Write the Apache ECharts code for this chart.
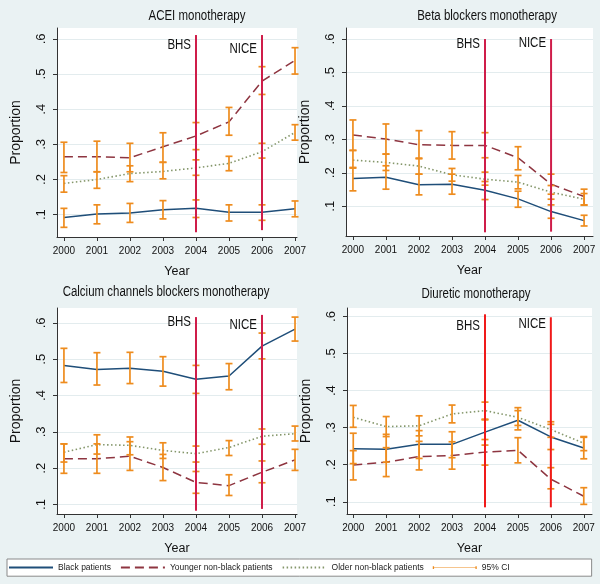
<!DOCTYPE html>
<html>
<head>
    <meta charset="utf-8">
    <title>Monotherapy proportions</title>
    <script src="https://cdn.jsdelivr.net/npm/echarts@6/dist/echarts.min.js"></script>
    <style>
        html, body { margin: 0; padding: 0; background: #eaf2f3; }
    </style>
</head>
<body>
<div id="main" style="width: 600px;height:584px;"></div>
<script type="text/javascript">
    var years = [2000, 2001, 2002, 2003, 2004, 2005, 2006, 2007];
    var yTicks = [0.1, 0.2, 0.3, 0.4, 0.5, 0.6];
    var groupNames = ['Black patients', 'Younger non-black patients', 'Older non-black patients', '95% CI'];
    var guideNames = ['BHS', 'NICE'];
    var panelTitles = ['ACEI monotherapy', 'Beta blockers monotherapy',
        'Calcium channels blockers monotherapy', 'Diuretic monotherapy'];

    // each row: [proportion, lower 95% CI, upper 95% CI], one row per year
    var aceiBlack = [[0.092,0.064,0.118],[0.102,0.074,0.128],[0.105,0.078,0.132],[0.114,0.088,0.140],
        [0.118,0.092,0.142],[0.107,0.082,0.128],[0.107,0.084,0.128],[0.117,0.094,0.139]];
    var aceiYounger = [[0.265,0.220,0.306],[0.265,0.222,0.309],[0.262,0.222,0.303],[0.293,0.249,0.333],
        [0.324,0.285,0.362],[0.364,0.326,0.405],[0.480,0.442,0.521],[0.539,0.500,0.575]];
    var aceiOlder = [[0.189,0.164,0.211],[0.200,0.175,0.222],[0.217,0.194,0.239],[0.223,0.202,0.249],
        [0.233,0.212,0.256],[0.246,0.225,0.266],[0.279,0.261,0.303],[0.334,0.312,0.356]];

    var betaBlack = [[0.183,0.146,0.216],[0.187,0.151,0.221],[0.164,0.134,0.196],[0.166,0.136,0.196],
        [0.148,0.120,0.174],[0.122,0.097,0.145],[0.084,0.064,0.104],[0.057,0.041,0.073]];
    var betaYounger = [[0.313,0.267,0.358],[0.301,0.256,0.346],[0.284,0.242,0.326],[0.282,0.241,0.323],
        [0.282,0.245,0.320],[0.245,0.209,0.278],[0.166,0.136,0.196],[0.129,0.104,0.151]];
    var betaOlder = [[0.238,0.214,0.267],[0.231,0.207,0.256],[0.220,0.196,0.244],[0.194,0.175,0.213],
        [0.181,0.163,0.202],[0.172,0.152,0.192],[0.142,0.121,0.162],[0.121,0.103,0.138]];

    var ccbBlack = [[0.483,0.436,0.530],[0.472,0.429,0.518],[0.475,0.433,0.519],[0.467,0.426,0.507],
        [0.445,0.406,0.483],[0.454,0.416,0.488],[0.536,0.501,0.572],[0.583,0.550,0.616]];
    var ccbYounger = [[0.226,0.186,0.267],[0.226,0.186,0.267],[0.233,0.194,0.273],[0.202,0.166,0.238],
        [0.161,0.131,0.191],[0.152,0.125,0.182],[0.189,0.160,0.220],[0.223,0.194,0.252]];
    var ccbOlder = [[0.244,0.217,0.267],[0.265,0.239,0.292],[0.263,0.237,0.286],[0.249,0.227,0.270],
        [0.240,0.217,0.261],[0.257,0.235,0.276],[0.288,0.266,0.308],[0.295,0.275,0.316]];

    var diurBlack = [[0.243,0.203,0.285],[0.242,0.207,0.282],[0.255,0.217,0.292],[0.255,0.219,0.289],
        [0.288,0.253,0.321],[0.320,0.294,0.346],[0.275,0.241,0.309],[0.245,0.216,0.274]];
    var diurYounger = [[0.199,0.159,0.238],[0.207,0.168,0.246],[0.222,0.186,0.263],[0.225,0.188,0.262],
        [0.234,0.199,0.268],[0.239,0.205,0.273],[0.161,0.135,0.192],[0.115,0.093,0.138]];
    var diurOlder = [[0.328,0.301,0.360],[0.303,0.276,0.330],[0.305,0.278,0.332],[0.337,0.313,0.361],
        [0.346,0.323,0.369],[0.328,0.306,0.354],[0.295,0.274,0.316],[0.258,0.238,0.276]];

    // guideline rows: [year, line bottom, line top, label height]
    var aceiGuides = [[2004, 0.050, 0.611, 0.583], [2006, 0.056, 0.611, 0.572]];
    var betaGuides = [[2004, 0.022, 0.600, 0.584], [2006, 0.024, 0.600, 0.589]];
    var ccbGuides = [[2004, 0.083, 0.616, 0.602], [2006, 0.088, 0.622, 0.593]];
    var diurGuides = [[2004, 0.085, 0.606, 0.575], [2006, 0.085, 0.598, 0.579]];

    var panels = [
        {groups: [aceiBlack, aceiYounger, aceiOlder], guides: aceiGuides},
        {groups: [betaBlack, betaYounger, betaOlder], guides: betaGuides},
        {groups: [ccbBlack, ccbYounger, ccbOlder], guides: ccbGuides},
        {groups: [diurBlack, diurYounger, diurOlder], guides: diurGuides}
    ];

    // layout of the four plot regions (pixels) and their axis ranges
    var grids = [
        {left: 57, top: 28, width: 240, height: 209},
        {left: 346, top: 28, width: 247, height: 208},
        {left: 57, top: 308, width: 240, height: 206},
        {left: 347, top: 308, width: 245, height: 206}
    ];
    var xRanges = [[1999.79, 2007.06], [1999.79, 2007.27], [1999.79, 2007.06], [1999.81, 2007.25]];
    var yRanges = [[0.0365, 0.631], [0.011, 0.633], [0.074, 0.641], [0.067, 0.623]];
    var titlePos = [[197, 16], [487, 16], [166, 292], [476, 294]];
    var guideColors = ['#cf1d4a', '#cf1d4a', '#cf1d4a', '#f01a1a'];

    var plain = "'Liberation Sans', Arial, sans-serif";
    var lineColors = ['#1f4e79', '#8e3540', '#84966a'];
    var lineTypes = ['solid', [9, 5], [1.5, 2.5]];
    var ciColor = '#ee8c1e';
    var squeeze = 0.82;   // horizontal text in the original is condensed

    var myChart = echarts.init(document.getElementById('main'));

    function renderCI(params, api) {
        var x = api.value(0);
        var lo = api.coord([x, api.value(1)]);
        var hi = api.coord([x, api.value(2)]);
        var w = 3.5;
        var st = {stroke: ciColor, lineWidth: 1.7};
        return {
            type: 'group',
            children: [
                {type: 'line', shape: {x1: hi[0], y1: hi[1], x2: lo[0], y2: lo[1]}, style: st},
                {type: 'line', shape: {x1: hi[0] - w, y1: hi[1], x2: hi[0] + w, y2: hi[1]}, style: st},
                {type: 'line', shape: {x1: lo[0] - w, y1: lo[1], x2: lo[0] + w, y2: lo[1]}, style: st}
            ]
        };
    }

    function makeGuideRenderer(color) {
        return function (params, api) {
            var x = api.value(0);
            var bot = api.coord([x, api.value(1)]);
            var top = api.coord([x, api.value(2)]);
            var lab = api.coord([x, api.value(3)]);
            return {
                type: 'group',
                children: [
                    {type: 'line', shape: {x1: top[0], y1: top[1], x2: bot[0], y2: bot[1]},
                        style: {stroke: color, lineWidth: 2}},
                    {type: 'text', x: lab[0] - 5, y: lab[1], scaleX: squeeze,
                        style: {text: guideNames[params.dataIndex], fill: '#111',
                            font: '14px ' + plain, align: 'right', verticalAlign: 'middle'}}
                ]
            };
        };
    }

    var option = {
        backgroundColor: '#eaf2f3',
        animation: false,
        graphic: [],
        grid: [],
        xAxis: [],
        yAxis: [],
        series: [],
        legend: {
            left: 7,
            top: 559,
            itemWidth: 44,
            itemHeight: 14,
            itemGap: 9,
            padding: [3, 82, 3, 1],
            backgroundColor: '#ffffff',
            borderColor: '#8a8a8a',
            borderWidth: 1,
            textStyle: {fontSize: 8.5, fontFamily: plain, color: '#222'},
            data: [
                {name: groupNames[0], itemStyle: {opacity: 0}},
                {name: groupNames[1], itemStyle: {opacity: 0}},
                {name: groupNames[2], itemStyle: {opacity: 0}},
                {name: groupNames[3],
                    icon: 'path://M0,0L0,0ZM100,14L100,14ZM0,4h3v2.4h94v-2.4h3v6h-3v-2.4h-94v2.4h-3z',
                    itemStyle: {color: ciColor}}
            ]
        }
    };

    for (var p = 0; p < 4; p++) {
        option.graphic.push({
            type: 'text', x: titlePos[p][0], y: titlePos[p][1], scaleX: squeeze,
            style: {text: panelTitles[p], font: '14px ' + plain, fill: '#111',
                align: 'center', verticalAlign: 'middle'}
        });
        option.grid.push({
            left: grids[p].left, top: grids[p].top, width: grids[p].width, height: grids[p].height,
            show: true, backgroundColor: '#ffffff', borderWidth: 0
        });
        option.xAxis.push({
            type: 'value', gridIndex: p, min: xRanges[p][0], max: xRanges[p][1],
            name: 'Year', nameLocation: 'middle', nameGap: 28,
            nameTextStyle: {fontSize: 12.5, fontFamily: plain, color: '#111'},
            axisLine: {onZero: false, lineStyle: {color: '#333', width: 1}},
            axisTick: {customValues: years, length: 4, lineStyle: {color: '#333'}},
            axisLabel: {customValues: years, margin: 9, fontSize: 10, fontFamily: plain, color: '#111',
                formatter: function (v) { return String(v); }},
            splitLine: {show: false}
        });
        option.yAxis.push({
            type: 'value', gridIndex: p, min: yRanges[p][0], max: yRanges[p][1],
            name: 'Proportion', nameLocation: 'middle', nameGap: 34,
            nameTextStyle: {fontSize: 14, fontFamily: plain, color: '#111'},
            axisLine: {onZero: false, lineStyle: {color: '#333', width: 1}},
            axisTick: {customValues: yTicks, length: 4, lineStyle: {color: '#333'}},
            axisLabel: {customValues: yTicks, rotate: 90, margin: 9, fontSize: 13, fontFamily: plain, color: '#111',
                formatter: function (v) { return '.' + Math.round(v * 10); }},
            splitLine: {show: true, lineStyle: {color: '#e3ecee', width: 1}}
        });

        var ciRows = [];
        for (var g = 0; g < 3; g++) {
            var rows = panels[p].groups[g];
            var pts = [];
            for (var i = 0; i < years.length; i++) {
                pts.push([years[i], rows[i][0]]);
                ciRows.push([years[i], rows[i][1], rows[i][2]]);
            }
            option.series.push({
                name: groupNames[g], type: 'line', xAxisIndex: p, yAxisIndex: p,
                data: pts, symbol: 'none', z: 2,
                lineStyle: {color: lineColors[g], width: g === 2 ? 1.6 : 1.5, type: lineTypes[g]},
                itemStyle: {color: lineColors[g]}
            });
        }
        option.series.push({
            name: groupNames[3], type: 'custom', xAxisIndex: p, yAxisIndex: p,
            data: ciRows, renderItem: renderCI, z: 3, itemStyle: {color: ciColor},
            encode: {x: 0, y: [1, 2]}
        });
        option.series.push({
            type: 'custom', xAxisIndex: p, yAxisIndex: p, silent: true,
            data: panels[p].guides, renderItem: makeGuideRenderer(guideColors[p]), z: 4,
            encode: {x: 0, y: [1, 2]}
        });
    }

    myChart.setOption(option);
</script>
</body>
</html>
